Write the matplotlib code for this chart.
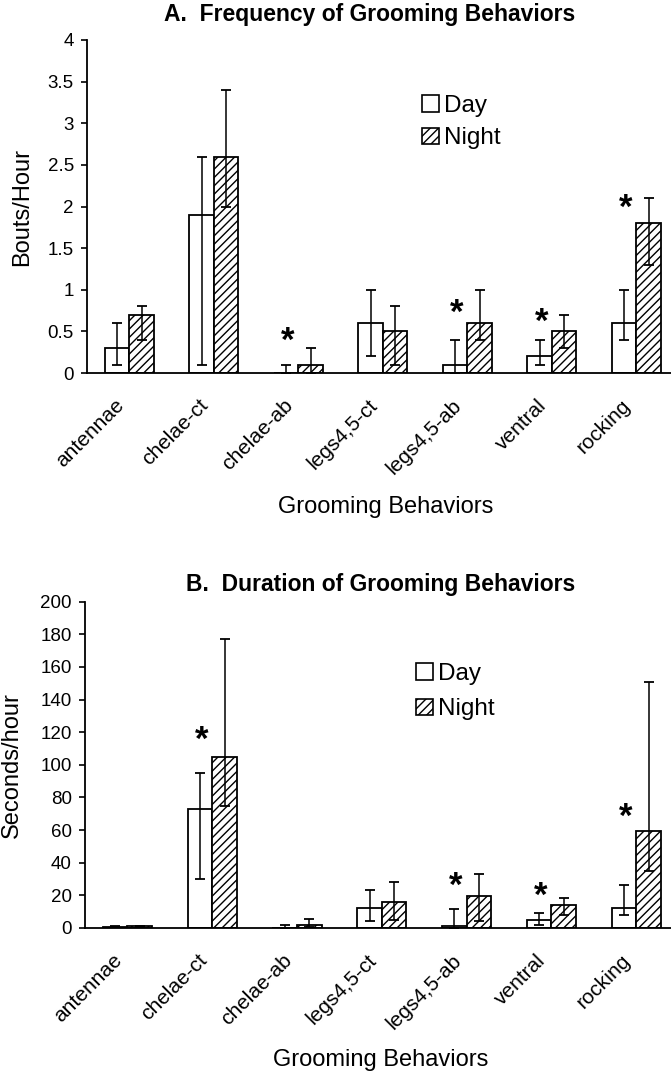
import matplotlib.pyplot as plt
import numpy as np
from matplotlib.patches import Patch

plt.rcParams["font.family"] = ["Liberation Sans", "DejaVu Sans"]

categories = ["antennae", "chelae-ct", "chelae-ab", "legs4,5-ct", "legs4,5-ab", "ventral", "rocking"]

# A. frequency (bouts/hour): bar value, lower and upper end of error bar
freq_day = [0.3, 1.9, 0.0, 0.6, 0.1, 0.2, 0.6]
freq_day_lo = [0.1, 0.1, 0.0, 0.2, 0.0, 0.1, 0.4]
freq_day_hi = [0.6, 2.6, 0.1, 1.0, 0.4, 0.4, 1.0]
freq_night = [0.7, 2.6, 0.1, 0.5, 0.6, 0.5, 1.8]
freq_night_lo = [0.4, 2.0, 0.0, 0.1, 0.4, 0.3, 1.3]
freq_night_hi = [0.8, 3.4, 0.3, 0.8, 1.0, 0.7, 2.1]
freq_star_idx = [2, 4, 5, 6]
freq_star_y = [0.46, 0.79, 0.68, 2.05]

# B. duration (seconds/hour)
dur_day = [0.8, 73, 0.3, 12, 1, 5, 12]
dur_day_lo = [0.4, 30, 0.0, 4, 0, 2, 8]
dur_day_hi = [1.4, 95, 2, 23, 11.5, 9.5, 26.5]
dur_night = [1.0, 105, 2, 16, 19.5, 14, 59.5]
dur_night_lo = [0.5, 75, 0.5, 5, 4, 8, 35]
dur_night_hi = [1.5, 177, 5.5, 28, 33, 18.5, 151]
dur_star_idx = [1, 4, 5, 6]
dur_star_y = [119, 29.5, 23.5, 71.5]

W, H = 671, 1072
fig = plt.figure(figsize=(W / 100, H / 100), dpi=100)


def px_axes(left, top, right, bottom):
    return fig.add_axes([left / W, 1 - bottom / H, (right - left) / W, (bottom - top) / H])


def draw_panel(ax, day, day_lo, day_hi, night, night_lo, night_hi, star_idx, star_y,
               ylim, yticks, ylabel, ylabel_x, xlabel_xy, legend_xy, legend_gap):
    x = np.arange(len(categories))
    bw = 0.29
    lw = 1.3
    ax.bar(x - bw / 2, day, bw, color="white", edgecolor="black", linewidth=lw, zorder=2)
    ax.bar(x + bw / 2, night, bw, color="white", edgecolor="black", linewidth=lw,
           hatch="////", zorder=2)
    day = np.array(day)
    night = np.array(night)
    ax.errorbar(x - bw / 2, day, yerr=[day - np.array(day_lo), np.array(day_hi) - day],
                fmt="none", ecolor="black", elinewidth=1.1, capsize=3.8, capthick=1.3, zorder=3)
    ax.errorbar(x + bw / 2, night, yerr=[night - np.array(night_lo), np.array(night_hi) - night],
                fmt="none", ecolor="black", elinewidth=1.1, capsize=3.8, capthick=1.3, zorder=3)
    for i, y in zip(star_idx, star_y):
        ax.annotate("*", (i - bw / 2 + 0.02, y), xytext=(0, -4.5), textcoords="offset points",
                    ha="center", va="center", fontsize=25, fontweight="bold")

    ax.set_xlim(-0.5, 6.41)
    ax.set_ylim(*ylim)
    ax.set_yticks(yticks)
    ax.set_yticklabels([f"{t:g}" for t in yticks], fontsize=13.5)
    # ticks are hidden, so the label anchors sit a little left of each group centre
    ax.set_xticks(x - 0.1)
    ax.set_xticklabels(categories, rotation=45, ha="right", va="center",
                       rotation_mode="anchor", fontsize=15)
    ax.tick_params(axis="x", length=0, pad=21)
    ax.tick_params(axis="y", length=4.5, width=1.2, direction="out", pad=5)
    for s in ["top", "right"]:
        ax.spines[s].set_visible(False)
    for s in ["left", "bottom"]:
        ax.spines[s].set_linewidth(1.3)
    ax.set_ylabel(ylabel, fontsize=17)
    ax.yaxis.set_label_coords(ylabel_x, 0.5)
    ax.set_xlabel("Grooming Behaviors", fontsize=17)
    ax.xaxis.set_label_coords(*xlabel_xy)

    handles = [Patch(facecolor="white", edgecolor="black", linewidth=1.2, label="Day"),
               Patch(facecolor="white", edgecolor="black", linewidth=1.2, hatch="////", label="Night")]
    ax.legend(handles=handles, loc="upper left", bbox_to_anchor=legend_xy, frameon=False,
              fontsize=17.5, handlelength=0.7, handleheight=0.65, handletextpad=0.2,
              labelspacing=legend_gap, borderpad=0, borderaxespad=0)


ax_a = px_axes(87, 40, 671, 373)
draw_panel(ax_a, freq_day, freq_day_lo, freq_day_hi, freq_night, freq_night_lo, freq_night_hi,
           freq_star_idx, freq_star_y, (0, 4), [0, 0.5, 1, 1.5, 2, 2.5, 3, 3.5, 4],
           "Bouts/Hour", -0.092, (0.512, -0.369), (0.574, 0.835), 0.42)
fig.text(370 / W, 1 - 15 / H, "A.  Frequency of Grooming Behaviors", ha="center", va="center",
         fontsize=16.5, fontweight="bold")

ax_b = px_axes(85, 601.7, 671, 928)
draw_panel(ax_b, dur_day, dur_day_lo, dur_day_hi, dur_night, dur_night_lo, dur_night_hi,
           dur_star_idx, dur_star_y, (0, 200), list(range(0, 201, 20)),
           "Seconds/hour", -0.106, (0.505, -0.372), (0.565, 0.812), 0.55)
fig.text(381 / W, 1 - 585 / H, "B.  Duration of Grooming Behaviors", ha="center", va="center",
         fontsize=16.5, fontweight="bold")

fig.savefig("out.png", dpi=100)
